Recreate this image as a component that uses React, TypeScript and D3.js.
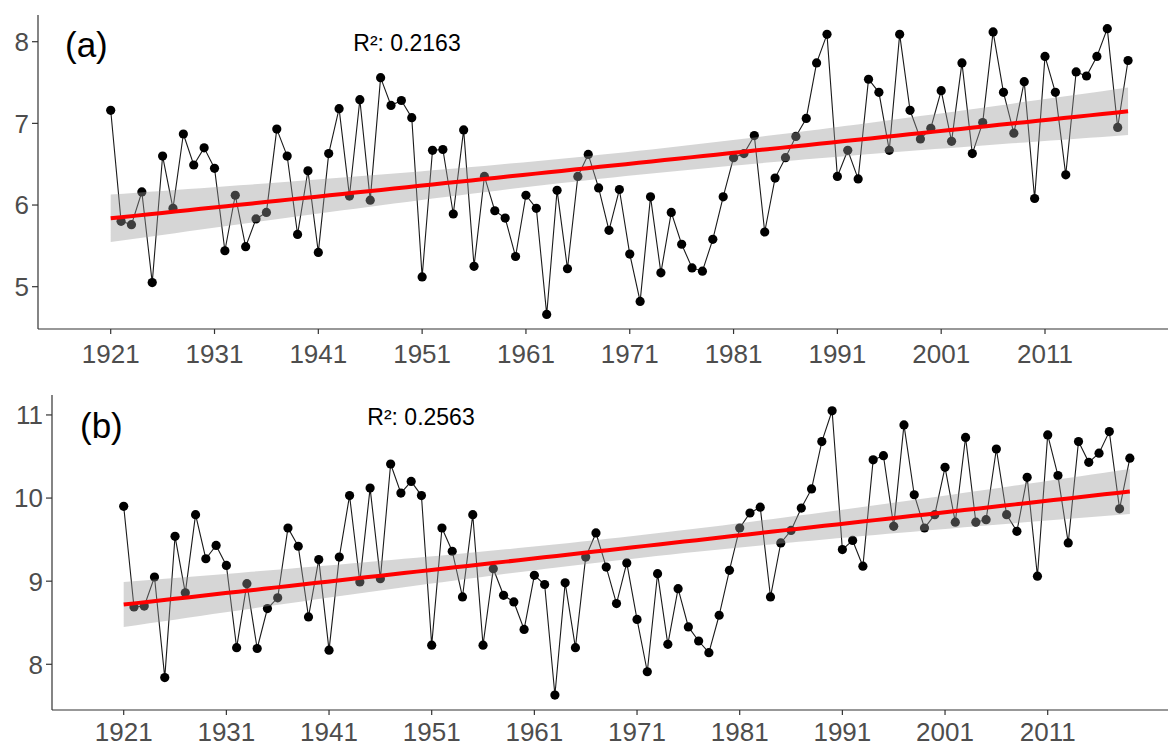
import React from "react";
import * as d3 from "d3";

// Annual series, 1921–2019
const years: number[] = d3.range(1921, 2020);

const seriesA: number[] = [
  7.16, 5.80, 5.76, 6.16, 5.05, 6.60, 5.96, 6.87, 6.49, 6.70,
  6.45, 5.44, 6.12, 5.49, 5.83, 5.91, 6.93, 6.60, 5.64, 6.42,
  5.42, 6.63, 7.18, 6.11, 7.29, 6.06, 7.56, 7.22, 7.28, 7.07,
  5.12, 6.67, 6.68, 5.89, 6.92, 5.25, 6.35, 5.93, 5.84, 5.37,
  6.12, 5.96, 4.66, 6.18, 5.22, 6.35, 6.62, 6.21, 5.69, 6.19,
  5.40, 4.82, 6.10, 5.17, 5.91, 5.52, 5.23, 5.19, 5.58, 6.10,
  6.58, 6.63, 6.85, 5.67, 6.33, 6.58, 6.84, 7.06, 7.74, 8.09,
  6.35, 6.67, 6.32, 7.54, 7.38, 6.67, 8.09, 7.16, 6.81, 6.94,
  7.40, 6.78, 7.74, 6.63, 7.01, 8.12, 7.38, 6.88, 7.51, 6.08,
  7.82, 7.38, 6.37, 7.63, 7.58, 7.82, 8.16, 6.95, 7.77,
];

const seriesB: number[] = [
  9.90, 8.69, 8.70, 9.05, 7.84, 9.54, 8.86, 9.80, 9.27, 9.43,
  9.19, 8.20, 8.97, 8.19, 8.67, 8.80, 9.64, 9.42, 8.57, 9.26,
  8.17, 9.29, 10.03, 8.99, 10.12, 9.03, 10.41, 10.06, 10.20, 10.03,
  8.23, 9.64, 9.36, 8.81, 9.80, 8.23, 9.15, 8.83, 8.75, 8.42,
  9.07, 8.96, 7.63, 8.98, 8.20, 9.29, 9.58, 9.17, 8.73, 9.22,
  8.54, 7.91, 9.09, 8.24, 8.91, 8.45, 8.28, 8.14, 8.59, 9.13,
  9.64, 9.82, 9.89, 8.81, 9.46, 9.61, 9.88, 10.11, 10.68, 11.05,
  9.38, 9.49, 9.18, 10.46, 10.51, 9.66, 10.88, 10.04, 9.64, 9.80,
  10.37, 9.71, 10.73, 9.71, 9.74, 10.59, 9.80, 9.60, 10.25, 9.06,
  10.76, 10.27, 9.46, 10.68, 10.43, 10.54, 10.80, 9.87, 10.48,
];

const xTicks: number[] = [1921, 1931, 1941, 1951, 1961, 1971, 1981, 1991, 2001, 2011];
const yTicksA: number[] = [5, 6, 7, 8];
const yTicksB: number[] = [8, 9, 10, 11];
const panelTags: string[] = ["(a)", "(b)"];
const r2Labels: string[] = ["R²: 0.2163", "R²: 0.2563"];

const FONT = "'Liberation Sans', Arial, sans-serif";

type Panel = {
  values: number[];
  yTicks: number[];
  yDomain: [number, number];
  tag: string;
  r2: string;
  left: number; // y-axis line x
  top: number; // upper edge of the panel
  bottom: number; // x-axis line y
  right: number;
  x0: number; // pixel of 1921
  x1: number; // pixel of 2011
  tickBaseline: number;
  tagX: number;
  tagY: number;
  r2X: number;
  r2Y: number;
};

// Ordinary least squares fit with a 95% confidence band
function fitLinear(xs: number[], ys: number[]) {
  const n = xs.length;
  const mx = d3.mean(xs)!;
  const my = d3.mean(ys)!;
  let sxx = 0;
  let sxy = 0;
  for (let i = 0; i < n; i++) {
    sxx += (xs[i] - mx) ** 2;
    sxy += (xs[i] - mx) * (ys[i] - my);
  }
  const b = sxy / sxx;
  const a = my - b * mx;
  let sse = 0;
  for (let i = 0; i < n; i++) sse += (ys[i] - (a + b * xs[i])) ** 2;
  const s = Math.sqrt(sse / (n - 2));
  const t = 1.9847; // t(0.975, df = 97)
  const grid = d3.range(80).map((i) => xs[0] + ((xs[n - 1] - xs[0]) * i) / 79);
  return grid.map((x) => {
    const fit = a + b * x;
    const se = s * Math.sqrt(1 / n + (x - mx) ** 2 / sxx);
    return { x, fit, lo: fit - t * se, hi: fit + t * se };
  });
}

function TrendPanel({ p }: { p: Panel }) {
  const x = d3.scaleLinear().domain([1921, 2011]).range([p.x0, p.x1]);
  const y = d3.scaleLinear().domain(p.yDomain).range([p.bottom, p.top]);
  const pts = years.map((yr, i) => ({ yr, v: p.values[i] }));
  const fit = fitLinear(years, p.values);

  const linePath = d3
    .line<{ yr: number; v: number }>()
    .x((d) => x(d.yr))
    .y((d) => y(d.v))(pts)!;
  const bandPath = d3
    .area<{ x: number; lo: number; hi: number }>()
    .x((d) => x(d.x))
    .y0((d) => y(d.lo))
    .y1((d) => y(d.hi))(fit)!;
  const fitPath = d3
    .line<{ x: number; fit: number }>()
    .x((d) => x(d.x))
    .y((d) => y(d.fit))(fit)!;

  return (
    <g>
      {/* series */}
      <path d={linePath} fill="none" stroke="#1a1a1a" strokeWidth={1.1} />
      {pts.map((d) => (
        <circle key={d.yr} cx={x(d.yr)} cy={y(d.v)} r={4.6} fill="#000" />
      ))}
      {/* confidence band and trend line */}
      <path d={bandPath} fill="#999999" fillOpacity={0.4} stroke="none" />
      <path d={fitPath} fill="none" stroke="#ff0000" strokeWidth={4} />

      {/* axes */}
      <line x1={p.left} x2={p.left} y1={p.top} y2={p.bottom} stroke="#333" strokeWidth={1.2} />
      <line x1={p.left} x2={p.right} y1={p.bottom} y2={p.bottom} stroke="#333" strokeWidth={1.2} />
      {p.yTicks.map((t) => (
        <g key={t}>
          <line x1={p.left - 6} x2={p.left} y1={y(t)} y2={y(t)} stroke="#333" strokeWidth={1.2} />
          <text
            x={p.left - 9}
            y={y(t)}
            dy="0.36em"
            textAnchor="end"
            fontFamily={FONT}
            fontSize={26}
            fill="#4d4d4d"
          >
            {t}
          </text>
        </g>
      ))}
      {xTicks.map((t) => (
        <g key={t}>
          <line x1={x(t)} x2={x(t)} y1={p.bottom} y2={p.bottom + 5} stroke="#333" strokeWidth={1.2} />
          <text
            x={x(t)}
            y={p.tickBaseline}
            textAnchor="middle"
            fontFamily={FONT}
            fontSize={26}
            fill="#4d4d4d"
          >
            {t}
          </text>
        </g>
      ))}

      {/* annotations */}
      <text x={p.tagX} y={p.tagY} fontFamily={FONT} fontSize={35} fill="#000">
        {p.tag}
      </text>
      <text x={p.r2X} y={p.r2Y} textAnchor="middle" fontFamily={FONT} fontSize={23} fill="#000">
        {p.r2}
      </text>
    </g>
  );
}

export default function App() {
  const panels: Panel[] = [
    {
      values: seriesA,
      yTicks: yTicksA,
      yDomain: [4.482, 8.327],
      tag: panelTags[0],
      r2: r2Labels[0],
      left: 38,
      top: 15,
      bottom: 329,
      right: 1168,
      x0: 110.7,
      x1: 1045,
      tickBaseline: 363,
      tagX: 65,
      tagY: 57,
      r2X: 407,
      r2Y: 51,
    },
    {
      values: seriesB,
      yTicks: yTicksB,
      yDomain: [7.45, 11.24],
      tag: panelTags[1],
      r2: r2Labels[1],
      left: 52,
      top: 395,
      bottom: 710,
      right: 1168,
      x0: 123.7,
      x1: 1047.7,
      tickBaseline: 741,
      tagX: 80,
      tagY: 438,
      r2X: 421,
      r2Y: 425,
    },
  ];

  return (
    <svg
      width={1168}
      height={746}
      style={{ position: "absolute", left: 0, top: 0, background: "#fff" }}
    >
      <rect width={1168} height={746} fill="#fff" />
      {panels.map((p) => (
        <TrendPanel key={p.tag} p={p} />
      ))}
    </svg>
  );
}
